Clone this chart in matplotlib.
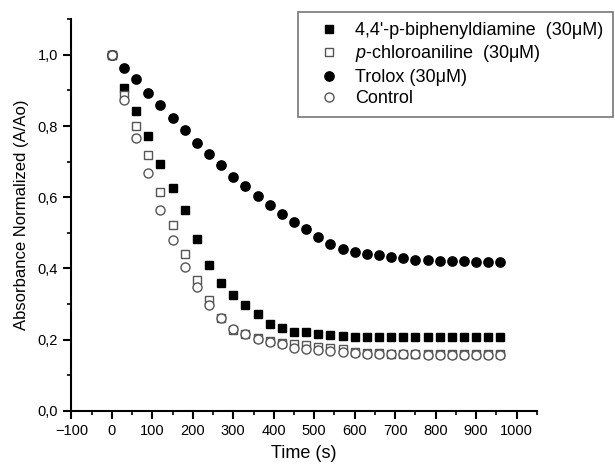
import numpy as np
import matplotlib
matplotlib.use("Agg")
import matplotlib.pyplot as plt
from matplotlib.ticker import MultipleLocator, FuncFormatter

plt.rcParams['font.family'] = ['Liberation Sans', 'DejaVu Sans']
plt.rcParams['mathtext.fontset'] = 'custom'
plt.rcParams['mathtext.rm'] = 'Liberation Sans'
plt.rcParams['mathtext.it'] = 'Liberation Sans:italic'

# time points (s), one reading every 30 s
time_s = list(range(0, 961, 30))

biphenyldiamine = [1.0, 0.906, 0.841, 0.773, 0.694, 0.627, 0.563, 0.484, 0.409, 0.358,
                   0.325, 0.297, 0.272, 0.244, 0.232, 0.222, 0.221, 0.215, 0.212, 0.209,
                   0.208, 0.207, 0.207, 0.207, 0.207, 0.207, 0.207, 0.207, 0.207, 0.207,
                   0.207, 0.207, 0.207]
chloroaniline = [1.0, 0.886, 0.799, 0.720, 0.614, 0.521, 0.442, 0.369, 0.311, 0.262,
                 0.228, 0.216, 0.204, 0.196, 0.190, 0.188, 0.185, 0.180, 0.177, 0.174,
                 0.166, 0.163, 0.162, 0.161, 0.161, 0.160, 0.160, 0.160, 0.160, 0.160,
                 0.160, 0.160, 0.160]
trolox = [1.0, 0.964, 0.931, 0.894, 0.858, 0.822, 0.790, 0.752, 0.721, 0.690,
          0.658, 0.632, 0.604, 0.578, 0.554, 0.530, 0.510, 0.488, 0.470, 0.454,
          0.447, 0.442, 0.437, 0.433, 0.430, 0.425, 0.425, 0.421, 0.420, 0.420,
          0.418, 0.418, 0.417]
control = [1.0, 0.874, 0.767, 0.667, 0.565, 0.479, 0.403, 0.347, 0.297, 0.260,
           0.229, 0.215, 0.201, 0.194, 0.187, 0.176, 0.174, 0.171, 0.169, 0.166,
           0.163, 0.161, 0.160, 0.160, 0.159, 0.159, 0.158, 0.158, 0.158, 0.158,
           0.158, 0.158, 0.158]

labels = ["4,4'-p-biphenyldiamine  (30\u03bcM)",
          "$p$-chloroaniline  (30\u03bcM)",
          "Trolox (30\u03bcM)",
          "Control"]

fig = plt.figure(figsize=(6.15, 4.68), dpi=100)
ax = fig.add_axes([0.116, 0.122, 0.757, 0.837])

ax.plot(time_s, biphenyldiamine, 's', ms=6, mfc='black', mec='black', label=labels[0])
ax.plot(time_s, chloroaniline, 's', ms=6, mfc='white', mec='#555555', mew=1.0, label=labels[1])
ax.plot(time_s, trolox, 'o', ms=6.7, mfc='black', mec='black', label=labels[2])
ax.plot(time_s, control, 'o', ms=6.5, mfc='white', mec='#555555', mew=1.0, label=labels[3])

ax.set_xlim(-100, 1050)
ax.set_ylim(0, 1.1)
ax.xaxis.set_major_locator(MultipleLocator(100))
ax.xaxis.set_minor_locator(MultipleLocator(50))
ax.yaxis.set_major_locator(MultipleLocator(0.2))
ax.yaxis.set_minor_locator(MultipleLocator(0.1))
ax.yaxis.set_major_formatter(FuncFormatter(lambda v, p: ("%.1f" % v).replace('.', ',')))

for s in ['top', 'right']:
    ax.spines[s].set_visible(False)
for s in ['left', 'bottom']:
    ax.spines[s].set_linewidth(1.5)
ax.tick_params(which='major', direction='out', length=6, width=1.5, labelsize=10.5)
ax.tick_params(which='minor', direction='out', length=3, width=1.2)

ax.set_xlabel("Time (s)", fontsize=13, labelpad=5)
ax.set_ylabel("Absorbance Normalized (A/Ao)", fontsize=12, labelpad=6)

leg = fig.legend(loc='upper right', bbox_to_anchor=(0.9967, 0.9744), fontsize=13,
                 frameon=True, fancybox=False, numpoints=1, handlelength=2.35,
                 handletextpad=0.25, labelspacing=0.25, borderpad=0.55,
                 borderaxespad=0)
leg.get_frame().set_edgecolor('#555555')
leg.get_frame().set_linewidth(1.2)

fig.savefig("out.png", dpi=100)
